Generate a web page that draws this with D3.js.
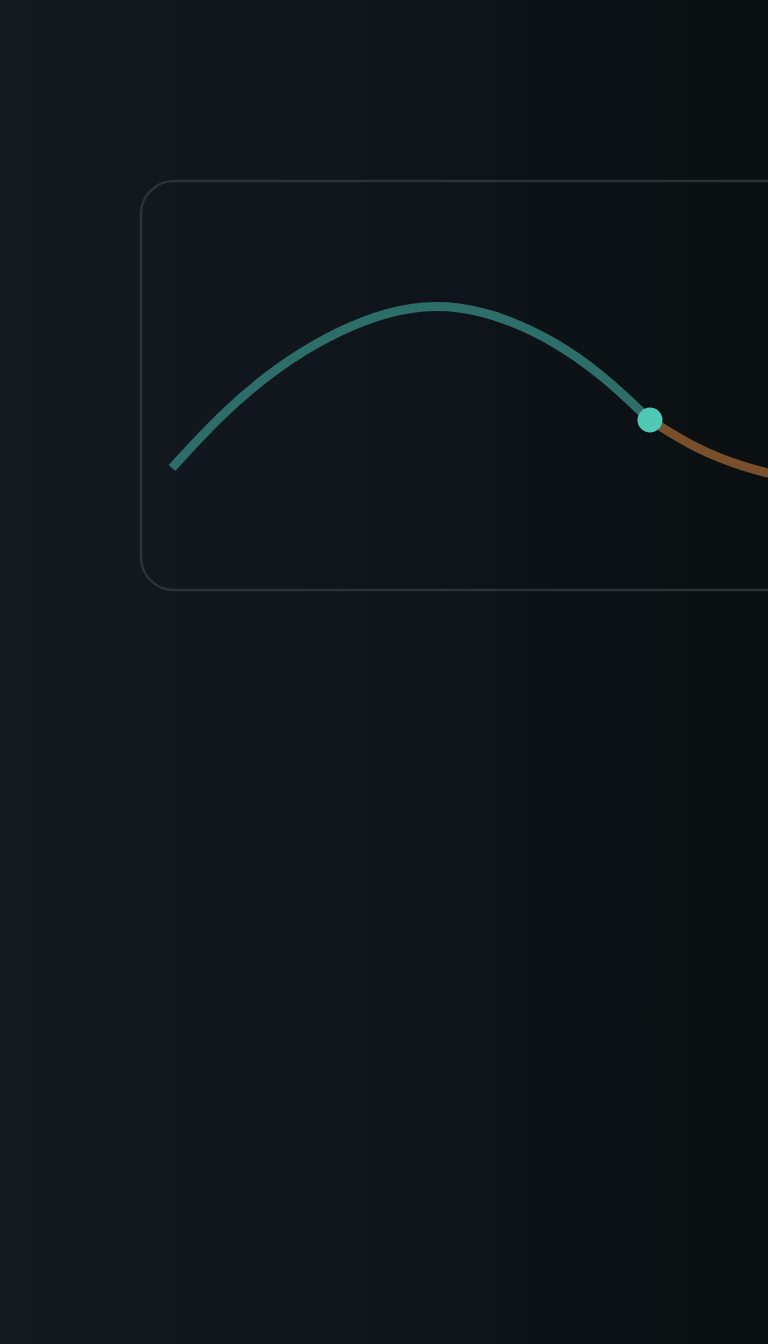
<!DOCTYPE html>
<html>
<head>
<meta charset="utf-8">
<script src="https://cdn.jsdelivr.net/npm/d3@7"></script>
<style>
  html, body { margin: 0; padding: 0; background: #0f151a; overflow: hidden; }
</style>
</head>
<body>
<div id="chart"></div>
<script>
// history (teal) up to the current point, then projection (brown)
var histSteps = [0, 1, 2, 3, 4, 5, 6, 7, 8, 9, 10];
var histValues = [26.3, 41.2, 53.0, 62.0, 68.6, 72.5, 72.6, 69.0, 62.5, 53.0, 40];
var projSteps = [10, 11, 12, 13];
var projValues = [40, 31.4, 26.3, 23.1];

var width = 768, height = 1344;

var svg = d3.select("#chart").append("svg")
    .attr("width", width)
    .attr("height", height);

var defs = svg.append("defs");
var grad = defs.append("linearGradient")
    .attr("id", "bg")
    .attr("x1", "0%").attr("y1", "0%")
    .attr("x2", "100%").attr("y2", "0%");
grad.append("stop").attr("offset", "0%").attr("stop-color", "#141a1e");
grad.append("stop").attr("offset", "50%").attr("stop-color", "#0f151b");
grad.append("stop").attr("offset", "100%").attr("stop-color", "#0a0f11");

svg.append("rect")
    .attr("width", width)
    .attr("height", height)
    .attr("fill", "url(#bg)");

// panel (runs off the right edge)
svg.append("rect")
    .attr("x", 141)
    .attr("y", 181)
    .attr("width", 760)
    .attr("height", 409)
    .attr("rx", 33)
    .attr("ry", 33)
    .attr("fill", "none")
    .attr("stroke", "#2c3235")
    .attr("stroke-width", 2.5);

var x = d3.scaleLinear().domain([0, 10]).range([172, 650]);
var y = d3.scaleLinear().domain([0, 100]).range([560, 210]);

var line = d3.line()
    .x(function(d) { return x(d[0]); })
    .y(function(d) { return y(d[1]); })
    .curve(d3.curveBasis);

var hist = histSteps.map(function(s, i) { return [s, histValues[i]]; });
var proj = projSteps.map(function(s, i) { return [s, projValues[i]]; });

svg.append("path")
    .datum(proj)
    .attr("d", line)
    .attr("fill", "none")
    .attr("stroke", "#7a4f2b")
    .attr("stroke-width", 9);

svg.append("path")
    .datum(hist)
    .attr("d", line)
    .attr("fill", "none")
    .attr("stroke", "#2e6e68")
    .attr("stroke-width", 9);

var cur = hist[hist.length - 1];
svg.append("circle")
    .attr("cx", x(cur[0]))
    .attr("cy", y(cur[1]))
    .attr("r", 12.5)
    .attr("fill", "#4fc9b6");
</script>
</body>
</html>
